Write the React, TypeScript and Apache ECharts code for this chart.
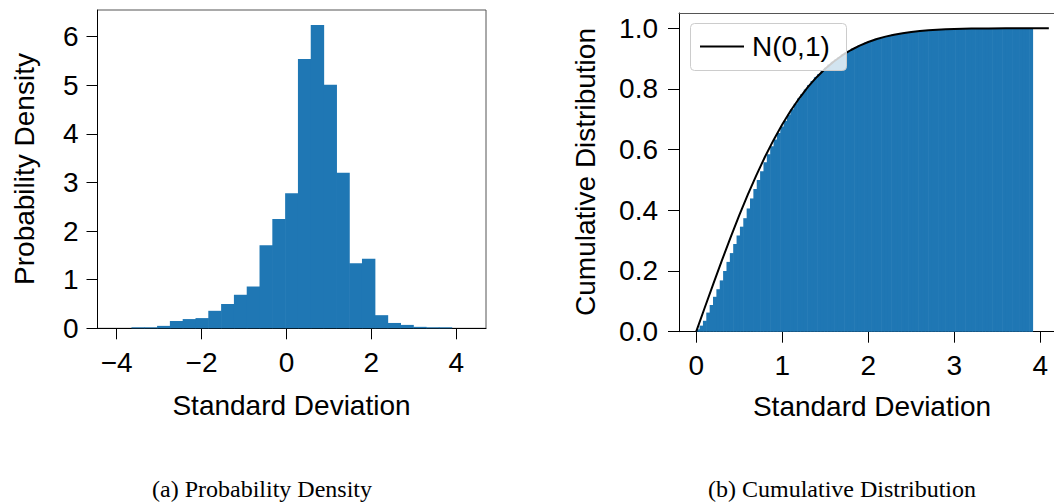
import React, { useEffect, useRef } from "react";
import * as echarts from "echarts";

// ---- Data ----
const densityBinStart = -3.65;
const densityBinWidth = 0.3016;
const densityValues = [
  0.01, 0.01, 0.05, 0.15, 0.19, 0.21, 0.36, 0.5, 0.69, 0.86, 1.71, 2.25, 2.78,
  5.54, 6.24, 5.01, 3.2, 1.34, 1.43, 0.27, 0.11, 0.07, 0.03, 0.01, 0.01,
];

const cdfBinStart = 0;
const cdfBinWidth = 0.0391;
const cdfValues = [
  0.008, 0.02, 0.036, 0.063, 0.088, 0.115, 0.14, 0.169, 0.2, 0.23,
  0.259, 0.289, 0.317, 0.346, 0.374, 0.406, 0.439, 0.47, 0.5, 0.529,
  0.558, 0.585, 0.611, 0.633, 0.655, 0.676, 0.695, 0.715, 0.733, 0.751,
  0.768, 0.783, 0.798, 0.813, 0.826, 0.838, 0.849, 0.86, 0.87, 0.88,
  0.889, 0.897, 0.905, 0.913, 0.92, 0.926, 0.932, 0.938, 0.943, 0.948,
  0.953, 0.957, 0.961, 0.965, 0.968, 0.971, 0.974, 0.976, 0.979, 0.98,
  0.982, 0.984, 0.986, 0.987, 0.989, 0.99, 0.991, 0.992, 0.993, 0.994,
  0.994, 0.995, 0.995, 0.996, 0.997, 0.997, 0.997, 0.998, 0.998, 0.998,
  0.998, 0.999, 0.999, 0.999, 0.999, 0.999, 0.999, 0.999, 0.999, 0.999,
  1.0, 1.0, 1.0, 1.0, 1.0, 1.0, 1.0, 1.0, 1.0, 1.0,
];

const normalX = [
  0, 0.1, 0.2, 0.3, 0.4, 0.5, 0.6, 0.7, 0.8, 0.9, 1.0, 1.1, 1.2, 1.3, 1.4, 1.5,
  1.6, 1.7, 1.8, 1.9, 2.0, 2.1, 2.2, 2.3, 2.4, 2.5, 2.6, 2.7, 2.8, 2.9, 3.0,
  3.2, 3.4, 3.6, 3.8, 4.1,
];
const normalCdf = [
  0, 0.0797, 0.1585, 0.2358, 0.3108, 0.3829, 0.4515, 0.5161, 0.5763, 0.6319,
  0.6827, 0.7287, 0.7699, 0.8064, 0.8385, 0.8664, 0.8904, 0.9109, 0.9281,
  0.9426, 0.9545, 0.9643, 0.9722, 0.9786, 0.9836, 0.9876, 0.9907, 0.9931,
  0.9949, 0.9963, 0.9973, 0.9986, 0.9993, 0.9997, 0.9999, 1.0,
];

const densityXTicks = [-4, -2, 0, 2, 4];
const densityYTicks = [0, 1, 2, 3, 4, 5, 6];
const cdfXTicks = [0, 1, 2, 3, 4];
const cdfYTicks = [0, 0.2, 0.4, 0.6, 0.8, 1.0];

const xTitle = "Standard Deviation";
const densityYTitle = "Probability Density";
const cdfYTitle = "Cumulative Distribution";
const legendLabel = "N(0,1)";
const captionA = "(a) Probability Density";
const captionB = "(b) Cumulative Distribution";

// ---- Styling ----
const SANS = "'Liberation Sans', Arial, Helvetica, sans-serif";
const SERIF = "'Liberation Serif', 'DejaVu Serif', serif";
const BLUE = "#1f77b4";
const FS = 28;

const fmtMinus = (v: number) => (v < 0 ? "\u2212" + Math.abs(v) : String(v));

function valueAxis(gridIndex: number, min: number, max: number, ticks: number[], fmt: (v: number) => string, margin: number) {
  return {
    type: "value" as const,
    gridIndex,
    min,
    max,
    splitLine: { show: false },
    axisLine: { show: true, onZero: false, lineStyle: { color: "#000", width: 1 } },
    axisTick: { show: true, inside: false, length: 11, customValues: ticks, lineStyle: { color: "#000", width: 1 } },
    axisLabel: {
      show: true,
      customValues: ticks,
      formatter: (v: number) => fmt(v),
      fontSize: FS,
      fontFamily: SANS,
      color: "#000",
      margin,
      hideOverlap: false,
    },
  };
}

function histRender(minH: number) {
  return (params: any, api: any) => {
    const x0 = api.value(0);
    const x1 = api.value(1);
    const y = api.value(2);
    const pTop = api.coord([x0, y]);
    const pBot = api.coord([x1, 0]);
    let h = pBot[1] - pTop[1];
    let top = pTop[1];
    if (h < minH) {
      top = pBot[1] - minH;
      h = minH;
    }
    return {
      type: "rect",
      shape: { x: pTop[0], y: top, width: pBot[0] - pTop[0] + 0.6, height: h },
      style: { fill: BLUE },
    };
  };
}

export default function App() {
  const ref = useRef<HTMLDivElement>(null);

  useEffect(() => {
    if (!ref.current) return;
    const chart = echarts.init(ref.current, undefined, { renderer: "svg" });

    const densityData = densityValues.map((v, i) => [
      densityBinStart + i * densityBinWidth,
      densityBinStart + (i + 1) * densityBinWidth,
      v,
    ]);
    const cdfData = cdfValues.map((v, i) => [
      cdfBinStart + i * cdfBinWidth,
      cdfBinStart + (i + 1) * cdfBinWidth,
      v,
    ]);
    const normalData = normalX.map((x, i) => [x, normalCdf[i]]);

    const textStyle = (text: string, size: number, family: string) => ({
      text,
      fontSize: size,
      fontFamily: family,
      fill: "#000",
      align: "center",
      verticalAlign: "middle",
      textAlign: "center",
      textVerticalAlign: "middle",
    });

    const cdfXMin = -0.2;
    const cdfXMax = 4.16;

    chart.setOption({
      animation: false,
      backgroundColor: "#fff",
      grid: [
        { left: 97.5, top: 10, width: 388.5, height: 318.3, show: true, borderColor: "#555", borderWidth: 1, backgroundColor: "transparent" },
        { left: 679, top: 13, width: 375, height: 318.7, show: false },
      ],
      xAxis: [
        valueAxis(0, -4.45, 4.7, densityXTicks, fmtMinus, 20),
        valueAxis(1, cdfXMin, cdfXMax, cdfXTicks, (v) => String(v), 20),
        {
          type: "value",
          gridIndex: 1,
          position: "top",
          min: cdfXMin,
          max: cdfXMax,
          splitLine: { show: false },
          axisLine: { show: true, onZero: false, lineStyle: { color: "#555", width: 1 } },
          axisTick: { show: false },
          axisLabel: { show: false },
        },
      ],
      yAxis: [
        valueAxis(0, 0, 6.55, densityYTicks, (v) => String(v), 19),
        valueAxis(1, 0, 1.05, cdfYTicks, (v) => v.toFixed(1), 21),
      ],
      series: [
        {
          type: "custom",
          name: "density",
          xAxisIndex: 0,
          yAxisIndex: 0,
          renderItem: histRender(1),
          encode: { x: [0, 1], y: 2 },
          data: densityData,
          silent: true,
          z: 2,
        },
        {
          type: "custom",
          name: "cdf",
          xAxisIndex: 1,
          yAxisIndex: 1,
          renderItem: histRender(0),
          encode: { x: [0, 1], y: 2 },
          data: cdfData,
          silent: true,
          z: 2,
        },
        {
          type: "line",
          name: legendLabel,
          xAxisIndex: 1,
          yAxisIndex: 1,
          data: normalData,
          showSymbol: false,
          symbol: "none",
          lineStyle: { color: "#000", width: 2 },
          silent: true,
          z: 3,
        },
      ],
      graphic: [
        { type: "text", x: 24, y: 169, rotation: Math.PI / 2, style: textStyle(densityYTitle, FS, SANS) },
        { type: "text", x: 585, y: 172, rotation: Math.PI / 2, style: textStyle(cdfYTitle, FS, SANS) },
        { type: "text", x: 291.5, y: 405, style: textStyle(xTitle, FS, SANS) },
        { type: "text", x: 872, y: 406, style: textStyle(xTitle, FS, SANS) },
        { type: "text", x: 262, y: 489, style: textStyle(captionA, 24, SERIF) },
        { type: "text", x: 842, y: 489, style: textStyle(captionB, 24, SERIF) },
        {
          type: "group",
          z: 100,
          children: [
            {
              type: "rect",
              shape: { x: 690.5, y: 23.5, width: 156, height: 47, r: 4 },
              style: { fill: "rgba(255,255,255,0.8)", stroke: "#cccccc", lineWidth: 1 },
              z: 100,
            },
            {
              type: "line",
              shape: { x1: 700, y1: 46.5, x2: 744, y2: 46.5 },
              style: { stroke: "#000", lineWidth: 2 },
              z: 101,
            },
            {
              type: "text",
              x: 752,
              y: 46.5,
              z: 101,
              style: {
                text: legendLabel,
                fontSize: FS,
                fontFamily: SANS,
                fill: "#000",
                align: "left",
                verticalAlign: "middle",
                textAlign: "left",
                textVerticalAlign: "middle",
              },
            },
          ],
        },
      ],
    });

    return () => chart.dispose();
  }, []);

  return (
    <div
      ref={ref}
      style={{ position: "absolute", left: 0, top: 0, width: 1054, height: 504 }}
    />
  );
}
